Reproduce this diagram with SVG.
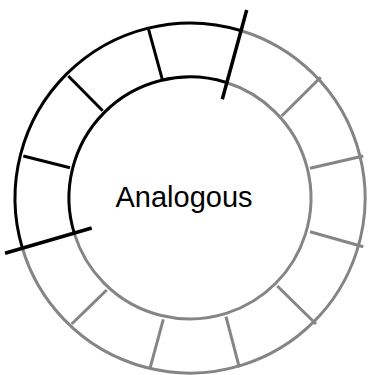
<svg xmlns="http://www.w3.org/2000/svg" width="371" height="375" viewBox="0 0 371 375">
<style>
.g{fill:none;stroke:#858585;stroke-width:3}
.b{fill:none;stroke:#000;stroke-width:3}
.h{fill:none;stroke:#000;stroke-width:3.5}
.t{font-family:"Liberation Sans",Arial,sans-serif;font-size:29px;fill:#000}
</style>
<rect width="371" height="375" fill="#fff"/>
<g id="ring-gray">
<path class="g" d="M241.3,30.7 A175,175 0 1 1 22.2,247.5"/>
<path class="g" d="M225.6,82.3 A121,121 0 1 1 74.5,234.1"/>
<line class="g" x1="320.7" y1="77.3" x2="281.7" y2="116"/>
<line class="g" x1="363.3" y1="156" x2="310" y2="168.3"/>
<line class="g" x1="363.3" y1="246.7" x2="310" y2="231.7"/>
<line class="g" x1="316" y1="324" x2="277.3" y2="286"/>
<line class="g" x1="239.3" y1="367.3" x2="226" y2="316.7"/>
<line class="g" x1="150" y1="368.3" x2="163.3" y2="319.3"/>
<line class="g" x1="71.7" y1="324" x2="106.7" y2="290"/>
</g>
<g id="ring-black">
<path class="b" d="M22.2,247.5 A175,175 0 0 1 241.3,30.7"/>
<path class="b" d="M74.5,234.1 A121,121 0 0 1 225.6,82.3"/>
<line class="b" x1="23.3" y1="156" x2="70" y2="167.7"/>
<line class="b" x1="68.3" y1="76" x2="102.7" y2="110.7"/>
<line class="b" x1="148.3" y1="28.3" x2="162.3" y2="79.3"/>
</g>
<g id="connectors">
<line class="h" x1="246.7" y1="10" x2="222.3" y2="99.3"/>
<line class="h" x1="5" y1="253.3" x2="91.7" y2="228"/>
</g>
<g id="label">
<text class="t" x="184" y="207" text-anchor="middle">Analogous</text>
</g>
</svg>
